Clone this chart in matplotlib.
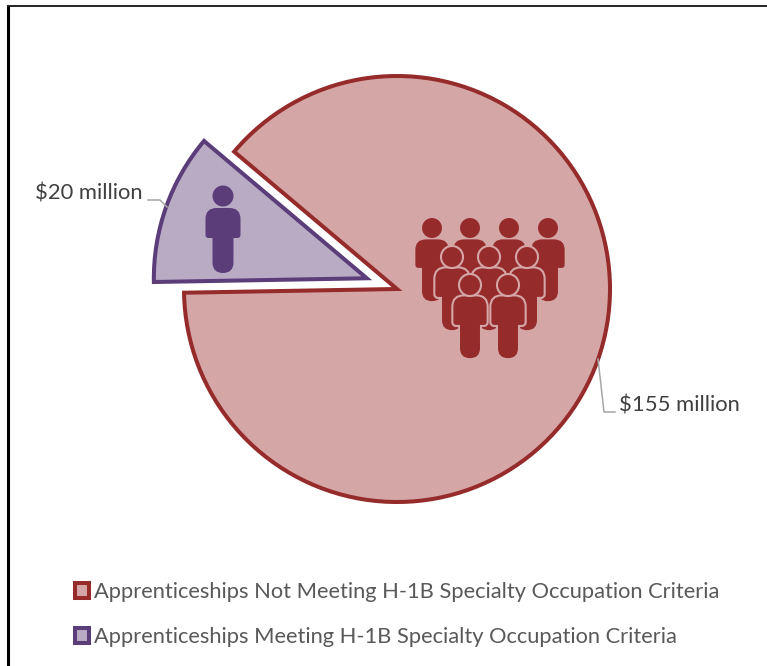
import matplotlib
matplotlib.use("Agg")
import matplotlib.pyplot as plt
import matplotlib.patheffects as pe
from matplotlib.patches import Circle, PathPatch, Patch
from matplotlib.path import Path

labels = [
    "Apprenticeships Not Meeting H-1B Specialty Occupation Criteria",
    "Apprenticeships Meeting H-1B Specialty Occupation Criteria",
]
values = [155, 20]
value_labels = ["$155 million", "$20 million"]

edge_colors = ["#962B2B", "#5B3D7A"]
fill_colors = ["#D5A6A6", "#BAABC5"]

# head centres of the people icons, back row first
crowd_rows = [
    [(432, 228), (470, 228), (509, 228), (548, 228)],
    [(452, 257), (489, 257), (527, 257)],
    [(470, 285), (508, 285)],
]
single_person = (223, 196)


def person_path(x, y, s):
    # body outline with rounded shoulders, hips and foot
    w, leg = 17.5 * s, 10.5 * s
    top, hip, foot = y + 12 * s, y + 42 * s, y + 77 * s
    r = 11 * s
    M, L, C = Path.MOVETO, Path.LINETO, Path.CURVE3
    pts = [
        (x - w + r, top),
        (x + w - r, top),
        (x + w, top), (x + w, top + r),
        (x + w, hip - 3 * s),
        (x + w, hip), (x + w - 3 * s, hip),
        (x + leg, hip),
        (x + leg, foot - leg),
        (x + leg, foot), (x, foot),
        (x - leg, foot), (x - leg, foot - leg),
        (x - leg, hip),
        (x - w + 3 * s, hip),
        (x - w, hip), (x - w, hip - 3 * s),
        (x - w, top + r),
        (x - w, top), (x - w + r, top),
    ]
    codes = [M, L, C, C, L, C, C, L, L, C, C, C, C, L, L, C, C, L, C, C]
    # flip to the axes' upward y
    return Path([(a, 666 - b) for a, b in pts], codes)


def draw_person(ax, x, y, s, color, halo=None):
    # the halo is a stroke under the fill, so the figure keeps its full size
    effects = [pe.Stroke(linewidth=3.0, foreground=halo), pe.Normal()] if halo else []
    for shape in (PathPatch(person_path(x, y, s)), Circle((x, 666 - y), 10.5 * s)):
        shape.set(facecolor=color, edgecolor=color, linewidth=0, zorder=5, path_effects=effects)
        ax.add_patch(shape)


fig = plt.figure(figsize=(7.67, 6.66), dpi=100)
ax = fig.add_axes([0, 0, 1, 1])

wedges, _ = ax.pie(
    values,
    explode=[0, 32],
    startangle=181,
    radius=213,
    center=(397, 377),
    colors=fill_colors,
    wedgeprops=dict(linewidth=2.9, joinstyle="miter"),
)
for w, c in zip(wedges, edge_colors):
    w.set_edgecolor(c)

ax.set_xlim(0, 767)
ax.set_ylim(0, 666)
ax.set_aspect("auto")
ax.axis("off")

# frame around the chart, only left and top
ax.plot([8, 8], [0, 660.5], color="black", lw=2.2, solid_capstyle="butt")
ax.plot([7, 767], [660.5, 660.5], color="black", lw=1.2, solid_capstyle="butt")

for row_no, row in enumerate(crowd_rows):
    for x, y in row:
        draw_person(ax, x, y, 0.95, edge_colors[0], fill_colors[0] if row_no else None)
draw_person(ax, single_person[0], single_person[1], 1.0, edge_colors[1])

# leader lines
ax.plot([598, 604, 615], [307, 254, 254], color="#A6A6A6", lw=1.1)
ax.plot([148, 160, 167], [466, 466, 459], color="#A6A6A6", lw=1.1)

font = "Lato"
ax.text(619, 260, value_labels[0], family=font, fontsize=15.8, color="#404040", va="center")
ax.text(35, 472, value_labels[1], family=font, fontsize=15.8, color="#404040", va="center")

handles = [
    Patch(facecolor=f, edgecolor=e, linewidth=2.9, joinstyle="round", label=l)
    for f, e, l in zip(fill_colors, edge_colors, labels)
]
ax.legend(
    handles=handles,
    loc="lower left",
    bbox_to_anchor=(75 / 767, 19 / 666),
    frameon=False,
    prop=dict(family=font, size=15.75),
    labelcolor="#595959",
    handlelength=0.66,
    handleheight=0.66,
    handletextpad=0.2,
    labelspacing=1.13,
    borderpad=0,
    borderaxespad=0,
)

fig.savefig("out.png", dpi=100)
